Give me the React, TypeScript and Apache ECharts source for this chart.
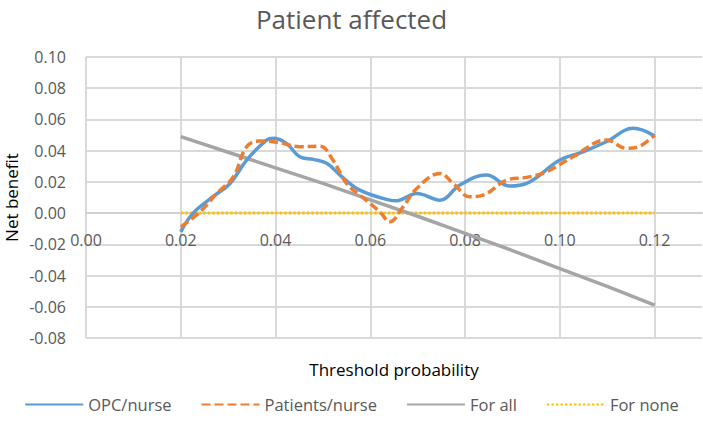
import React, { useEffect, useRef } from "react";
import * as echarts from "echarts";

const titleText = "Patient affected";
const seriesNames = ["OPC/nurse", "Patients/nurse", "For all", "For none"];

const opcX = [0.02, 0.0226, 0.0268, 0.0304, 0.0339, 0.0381, 0.0395, 0.0423, 0.0451, 0.048, 0.0508, 0.0536, 0.0578, 0.0641, 0.0655, 0.0698, 0.0747, 0.0789, 0.0845, 0.0895, 0.093, 0.1, 0.1049, 0.1098, 0.1155, 0.12];
const opcY = [-0.012, 0.0, 0.0105, 0.019, 0.034, 0.0468, 0.0479, 0.0447, 0.0361, 0.0344, 0.0319, 0.0244, 0.0147, 0.0083, 0.0079, 0.0126, 0.0083, 0.018, 0.0244, 0.0173, 0.019, 0.034, 0.0393, 0.0457, 0.0543, 0.0494];

const patX = [0.02, 0.0241, 0.0276, 0.0311, 0.0339, 0.0367, 0.0409, 0.0451, 0.0494, 0.0521, 0.055, 0.0578, 0.062, 0.0641, 0.0669, 0.0698, 0.0747, 0.0775, 0.081, 0.0838, 0.0888, 0.093, 0.0972, 0.1028, 0.1098, 0.1141, 0.1169, 0.12];
const patY = [-0.0088, 0.0009, 0.0126, 0.0233, 0.0425, 0.0462, 0.0451, 0.0425, 0.0429, 0.034, 0.019, 0.0115, 0.0009, -0.0056, 0.004, 0.0158, 0.0254, 0.019, 0.0105, 0.0115, 0.0212, 0.0229, 0.0265, 0.0361, 0.0468, 0.0415, 0.0429, 0.05];

const allX = [0.02, 0.03, 0.04, 0.05, 0.06, 0.07, 0.08, 0.09, 0.1, 0.11, 0.12];
const allY = [0.049, 0.039, 0.029, 0.019, 0.0085, -0.002, -0.013, -0.024, -0.0356, -0.047, -0.059];

const noneX = [0.02, 0.12];
const noneY = [0, 0];

const zip = (xs: number[], ys: number[]) => xs.map((x, i) => [x, ys[i]]);

const FONT = "'Open Sans', 'Noto Sans', sans-serif";
const TXT = "#595959";

export default function App() {
  const ref = useRef<HTMLDivElement>(null);
  useEffect(() => {
    if (!ref.current) return;
    const chart = echarts.init(ref.current, undefined, { renderer: "svg" });
    chart.setOption({
      animation: false,
      backgroundColor: "#ffffff",
      textStyle: { fontFamily: FONT },
      title: {
        text: titleText,
        left: "center",
        top: 1,
        textStyle: { fontFamily: FONT, fontSize: 26, fontWeight: "normal", color: TXT },
      },
      grid: { left: 86, right: 1, top: 57, bottom: 86, containLabel: false, outerBoundsMode: "none" },
      legend: {
        bottom: 6,
        left: "center",
        itemWidth: 58,
        itemHeight: 12,
        itemGap: 29,
        itemStyle: { opacity: 0 },
        textStyle: { fontFamily: FONT, fontSize: 16.5, color: TXT },
        data: seriesNames,
      },
      xAxis: {
        type: "value",
        min: 0,
        max: 0.13,
        interval: 0.02,
        offset: -125,
        name: "Threshold probability",
        nameLocation: "middle",
        nameGap: 148,
        nameMoveOverlap: false,
        nameTextStyle: { fontFamily: FONT, fontSize: 17, color: "#000" },
        axisLine: { show: true, onZero: false, lineStyle: { color: "#d0d0d0", width: 2 } },
        axisTick: { show: false },
        axisLabel: {
          margin: 19,
          fontSize: 16,
          color: TXT,
          fontFamily: FONT,
          showMaxLabel: false,
          formatter: (v: number) => v.toFixed(2),
        },
        splitLine: { show: true, showMaxLine: false, lineStyle: { color: "#d9d9d9", width: 2 } },
      },
      yAxis: {
        type: "value",
        min: -0.08,
        max: 0.1,
        interval: 0.02,
        name: "Net benefit",
        nameLocation: "middle",
        nameGap: 66,
        nameMoveOverlap: false,
        nameTextStyle: { fontFamily: FONT, fontSize: 17, color: "#000", lineHeight: 17 },
        axisLine: { show: false },
        axisTick: { show: false },
        axisLabel: {
          margin: 20,
          fontSize: 16,
          color: TXT,
          fontFamily: FONT,
          formatter: (v: number) => v.toFixed(2),
        },
        splitLine: { show: true, lineStyle: { color: "#d9d9d9", width: 2 } },
      },
      series: [
        {
          name: seriesNames[0],
          type: "line",
          data: zip(opcX, opcY),
          smooth: 0.4,
          showSymbol: false,
          symbol: "none",
          color: "#5b9bd5",
          lineStyle: { color: "#5b9bd5", width: 3.5 },
          z: 4,
        },
        {
          name: seriesNames[1],
          type: "line",
          data: zip(patX, patY),
          smooth: 0.4,
          showSymbol: false,
          symbol: "none",
          color: "#ed7d31",
          lineStyle: { color: "#ed7d31", width: 3.5, type: [9, 4] },
          z: 5,
        },
        {
          name: seriesNames[2],
          type: "line",
          data: zip(allX, allY),
          smooth: false,
          showSymbol: false,
          symbol: "none",
          color: "#a5a5a5",
          lineStyle: { color: "#a5a5a5", width: 3.5 },
          z: 3,
        },
        {
          name: seriesNames[3],
          type: "line",
          data: zip(noneX, noneY),
          showSymbol: false,
          symbol: "none",
          color: "#ffc000",
          lineStyle: { color: "#ffc000", width: 3, type: [2.5, 2] },
          z: 2,
        },
      ],
    });
    return () => chart.dispose();
  }, []);
  return <div ref={ref} style={{ width: 703, height: 424, position: "absolute", left: 0, top: 0 }} />;
}
